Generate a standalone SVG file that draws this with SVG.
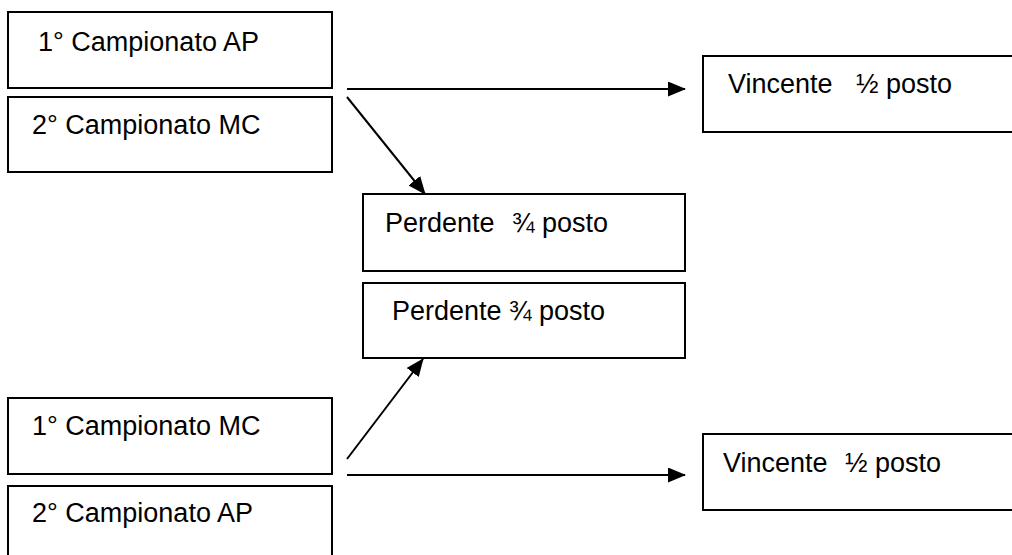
<svg xmlns="http://www.w3.org/2000/svg" width="1012" height="555" viewBox="0 0 1012 555">
<style>
.box{fill:#fff;stroke:#000;stroke-width:2}
.t{font-family:"Liberation Sans",Arial,sans-serif;font-size:27px;fill:#000}
.c{stroke:#000;stroke-width:2;fill:none}
</style>
<defs>
<marker id="ah" viewBox="0 0 18 15" refX="17" refY="7.5" markerWidth="18" markerHeight="15" markerUnits="userSpaceOnUse" orient="auto">
<path d="M0,0 L18,7.5 L0,15 Z" fill="#000"/>
</marker>
</defs>
<rect width="1012" height="555" fill="#fff"/>
<g id="n1"><rect class="box" x="8" y="12" width="324" height="76"/><text class="t" x="38" y="51">1° Campionato AP</text></g>
<g id="n2"><rect class="box" x="8" y="97" width="324" height="75"/><text class="t" x="32" y="134">2° Campionato MC</text></g>
<g id="n3"><rect class="box" x="703" y="56" width="320" height="76"/><text class="t" y="93"><tspan x="728">Vincente</tspan><tspan x="856">½ posto</tspan></text></g>
<g id="n4"><rect class="box" x="363" y="194" width="322" height="77"/><text class="t" y="232"><tspan x="385">Perdente</tspan><tspan x="512">¾ posto</tspan></text></g>
<g id="n5"><rect class="box" x="363" y="283" width="322" height="75"/><text class="t" y="320"><tspan x="392">Perdente</tspan><tspan x="509">¾ posto</tspan></text></g>
<g id="n6"><rect class="box" x="8" y="398" width="324" height="76"/><text class="t" x="32" y="435">1° Campionato MC</text></g>
<g id="n7"><rect class="box" x="8" y="486" width="324" height="80"/><text class="t" x="32" y="522">2° Campionato AP</text></g>
<g id="n8"><rect class="box" x="703" y="434" width="320" height="76"/><text class="t" y="472"><tspan x="723">Vincente</tspan><tspan x="845">½ posto</tspan></text></g>
<g id="connectors">
<line class="c" x1="347" y1="89" x2="685" y2="89" marker-end="url(#ah)"/>
<line class="c" x1="347" y1="97" x2="425" y2="194" marker-end="url(#ah)"/>
<line class="c" x1="347" y1="459" x2="423" y2="359" marker-end="url(#ah)"/>
<line class="c" x1="347" y1="475" x2="685" y2="475" marker-end="url(#ah)"/>
</g>
</svg>
